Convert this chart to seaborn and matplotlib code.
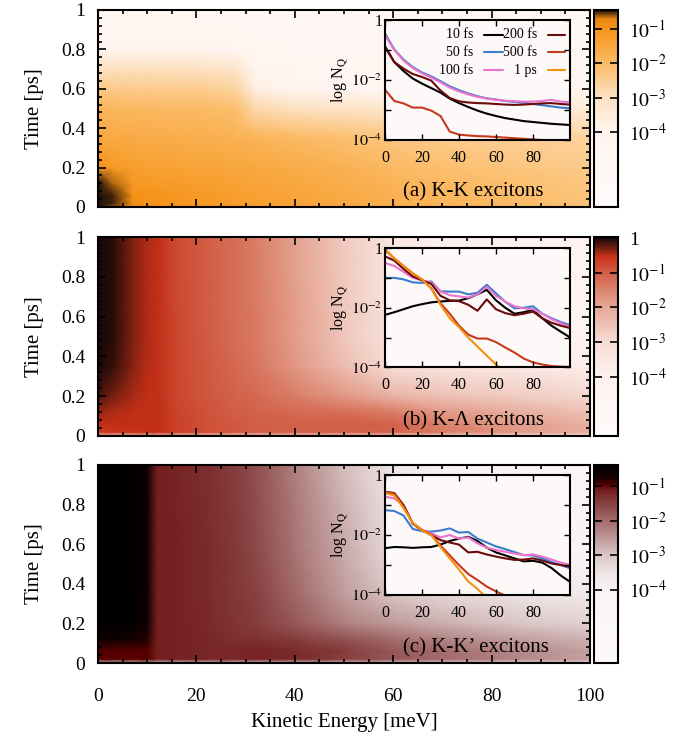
import numpy as np
import pandas as pd
import matplotlib
matplotlib.use("Agg")
import matplotlib.pyplot as plt
import seaborn as sns
from matplotlib.colors import LogNorm, LinearSegmentedColormap
from matplotlib.ticker import MultipleLocator, FixedLocator, FuncFormatter, NullLocator

# ---------------- inset data (log10 N_Q) ----------------
energy = [0, 5, 10, 15, 20, 25, 30, 35, 40, 45, 50, 55, 60, 65, 70, 75, 80, 85, 90, 95, 100]
time_labels = ["10 fs", "50 fs", "100 fs", "200 fs", "500 fs", "1 ps"]
line_colors = ["#000000", "#3c7ccc", "#ec74cc", "#6a0c0c", "#c8381c", "#f4900c"]

a_10fs = [-0.90, -1.40, -1.70, -1.95, -2.12, -2.27, -2.42, -2.62, -2.77, -2.90, -3.02, -3.12, -3.20, -3.27, -3.32, -3.37, -3.40, -3.43, -3.46, -3.48, -3.50]
a_50fs = [-0.45, -0.98, -1.32, -1.57, -1.75, -1.88, -2.04, -2.21, -2.34, -2.45, -2.54, -2.61, -2.65, -2.70, -2.73, -2.76, -2.80, -2.84, -2.88, -2.92, -2.94]
a_100fs = [-0.50, -1.00, -1.35, -1.60, -1.78, -1.92, -2.08, -2.25, -2.38, -2.48, -2.56, -2.62, -2.66, -2.69, -2.71, -2.72, -2.72, -2.70, -2.66, -2.72, -2.74]
a_200fs = [-0.87, -1.40, -1.62, -1.80, -1.90, -2.02, -2.35, -2.60, -2.71, -2.75, -2.77, -2.78, -2.80, -2.82, -2.83, -2.82, -2.80, -2.78, -2.77, -2.80, -2.82]
a_500fs = [-2.32, -2.70, -2.78, -2.92, -2.92, -3.02, -3.20, -3.72, -3.82, -3.85, -3.87, -3.88, -3.90, -3.92, -3.94, -3.96, -3.98, -4.00, -4.05, -4.10, -4.15]
a_1ps = [-4.4, -4.7, -4.9, -5.0, -5.1, -5.2, -5.4, -5.8, -6.0, -6.1, -6.2, -6.2, -6.3, -6.3, -6.4, -6.4, -6.5, -6.5, -6.5, -6.6, -6.6]

b_10fs = [-2.24, -2.15, -2.05, -1.95, -1.88, -1.82, -1.79, -1.77, -1.76, -1.68, -1.55, -1.40, -1.75, -2.00, -2.20, -2.15, -2.07, -2.35, -2.60, -2.80, -2.99]
b_50fs = [-1.00, -1.00, -1.05, -1.15, -1.17, -1.12, -1.45, -1.46, -1.46, -1.55, -1.50, -1.23, -1.52, -1.80, -2.02, -2.00, -1.95, -2.20, -2.35, -2.48, -2.58]
b_100fs = [-0.50, -0.60, -0.80, -1.00, -1.08, -1.15, -1.45, -1.58, -1.62, -1.66, -1.55, -1.30, -1.60, -1.80, -1.95, -2.02, -2.05, -2.20, -2.38, -2.52, -2.63]
b_200fs = [-0.28, -0.42, -0.70, -0.95, -1.08, -1.20, -1.60, -1.75, -1.78, -1.90, -2.10, -1.72, -2.05, -2.18, -2.25, -2.20, -2.13, -2.35, -2.50, -2.60, -2.68]
b_500fs = [-0.06, -0.35, -0.60, -0.85, -1.05, -1.35, -1.85, -2.20, -2.60, -2.90, -3.03, -3.03, -3.15, -3.33, -3.50, -3.70, -3.83, -3.90, -3.95, -3.97, -3.98]
b_1ps = [-0.03, -0.35, -0.60, -0.85, -1.05, -1.35, -1.90, -2.35, -2.65, -3.00, -3.30, -3.60, -3.90, -4.20, -4.50, -4.80, -5.00, -5.20, -5.40, -5.60, -5.80]

c_10fs = [-2.44, -2.40, -2.41, -2.43, -2.41, -2.40, -2.32, -2.20, -2.12, -2.06, -2.20, -2.42, -2.58, -2.68, -2.78, -2.88, -2.86, -2.92, -3.10, -3.35, -3.56]
c_50fs = [-1.17, -1.20, -1.35, -1.80, -1.87, -1.89, -1.85, -1.78, -1.92, -1.90, -2.12, -2.25, -2.38, -2.47, -2.57, -2.67, -2.68, -2.78, -2.90, -3.00, -3.11]
c_100fs = [-0.72, -0.78, -1.00, -1.62, -1.85, -1.94, -2.08, -2.00, -2.12, -2.08, -2.28, -2.42, -2.50, -2.56, -2.62, -2.67, -2.65, -2.72, -2.82, -2.92, -3.00]
c_200fs = [-0.56, -0.60, -1.00, -1.62, -1.85, -2.00, -2.17, -2.25, -2.32, -2.58, -2.56, -2.65, -2.72, -2.78, -2.83, -2.82, -2.78, -2.85, -2.95, -3.00, -3.06]
c_500fs = [-0.56, -0.62, -1.05, -1.60, -1.83, -1.98, -2.35, -2.68, -3.00, -3.30, -3.50, -3.72, -3.88, -4.02, -4.20, -4.40, -4.60, -4.80, -5.00, -5.20, -5.40]
c_1ps = [-0.60, -0.68, -1.10, -1.60, -1.85, -2.00, -2.40, -2.78, -3.15, -3.55, -3.80, -4.10, -4.40, -4.70, -5.00, -5.20, -5.40, -5.60, -5.80, -6.00, -6.20]

# ---------------- heatmap data (log10 N_Q) ----------------
heat_E = [0, 3, 7, 10, 12, 16, 22, 28, 32, 40, 50, 60, 70, 85, 100]
heat_t = [0, 0.02, 0.06, 0.12, 0.2, 0.35, 0.5, 0.6, 0.7, 0.8, 1.0]

heat_a = [
    [-0.45, -0.60, -0.90, -0.98, -1.02, -1.08, -1.15, -1.25, -1.30, -1.40, -1.55, -1.70, -1.85, -2.00, -2.20],
    [-0.40, -0.50, -0.90, -0.98, -1.02, -1.08, -1.15, -1.25, -1.30, -1.40, -1.55, -1.70, -1.85, -2.00, -2.20],
    [-0.40, -0.50, -0.95, -1.00, -1.05, -1.10, -1.18, -1.28, -1.33, -1.45, -1.60, -1.75, -1.90, -2.05, -2.25],
    [-0.45, -0.65, -1.10, -1.15, -1.18, -1.22, -1.30, -1.38, -1.42, -1.52, -1.65, -1.80, -1.95, -2.10, -2.30],
    [-0.95, -1.15, -1.30, -1.32, -1.35, -1.38, -1.42, -1.48, -1.52, -1.62, -1.75, -1.95, -2.10, -2.25, -2.40],
    [-1.50, -1.55, -1.58, -1.60, -1.62, -1.65, -1.70, -1.75, -1.82, -1.95, -2.10, -2.30, -2.40, -2.50, -2.60],
    [-1.85, -1.90, -1.92, -1.93, -1.95, -1.97, -2.00, -2.10, -2.75, -3.00, -3.10, -3.20, -3.30, -3.40, -3.50],
    [-2.35, -2.38, -2.40, -2.40, -2.40, -2.42, -2.45, -2.60, -3.70, -4.20, -4.30, -4.40, -4.50, -4.50, -4.50],
    [-3.00, -2.95, -2.95, -2.95, -2.95, -2.95, -3.00, -3.15, -4.10, -4.50, -4.50, -4.60, -4.60, -4.60, -4.60],
    [-4.00, -4.10, -4.15, -4.15, -4.15, -4.15, -4.20, -4.30, -4.60, -4.70, -4.70, -4.70, -4.70, -4.70, -4.70],
    [-4.80, -4.80, -4.80, -4.80, -4.80, -4.80, -4.80, -4.80, -4.80, -4.80, -4.80, -4.80, -4.80, -4.80, -4.80],
]
heat_b = [
    [-2.50, -2.50, -2.50, -2.50, -2.50, -2.60, -2.70, -2.80, -2.80, -2.80, -2.80, -2.80, -2.90, -3.00, -3.10],
    [-0.60, -0.58, -0.55, -0.52, -0.50, -0.70, -0.85, -0.95, -1.00, -1.05, -1.05, -1.10, -1.40, -1.80, -2.10],
    [-0.50, -0.50, -0.50, -0.50, -0.50, -0.70, -0.85, -0.95, -1.00, -1.05, -1.00, -1.05, -1.45, -1.85, -2.20],
    [-0.38, -0.45, -0.50, -0.50, -0.50, -0.72, -0.88, -1.00, -1.05, -1.15, -1.20, -1.40, -1.80, -2.10, -2.50],
    [-0.15, -0.28, -0.42, -0.48, -0.50, -0.75, -0.92, -1.08, -1.15, -1.40, -1.75, -2.20, -2.50, -2.70, -2.90],
    [0.00, -0.08, -0.32, -0.46, -0.50, -0.75, -0.95, -1.15, -1.30, -1.75, -2.40, -3.10, -3.40, -3.60, -3.80],
    [0.00, -0.05, -0.30, -0.45, -0.50, -0.76, -0.97, -1.20, -1.35, -1.85, -2.60, -3.40, -3.80, -4.00, -4.20],
    [0.00, -0.05, -0.30, -0.45, -0.50, -0.76, -0.98, -1.20, -1.35, -1.85, -2.60, -3.40, -3.85, -4.05, -4.25],
    [0.00, -0.05, -0.30, -0.45, -0.50, -0.77, -0.98, -1.21, -1.36, -1.87, -2.62, -3.45, -3.85, -4.05, -4.25],
    [0.00, -0.05, -0.30, -0.45, -0.50, -0.77, -0.99, -1.21, -1.37, -1.88, -2.63, -3.45, -3.90, -4.10, -4.30],
    [0.00, -0.05, -0.30, -0.45, -0.50, -0.78, -1.00, -1.22, -1.38, -1.90, -2.65, -3.50, -3.90, -4.10, -4.30],
]
heat_c = [
    [-2.80, -2.80, -2.80, -2.80, -2.80, -2.80, -2.80, -2.80, -2.80, -2.80, -2.80, -2.90, -3.00, -3.10, -3.20],
    [-0.95, -0.95, -0.95, -0.95, -1.10, -1.15, -1.20, -1.25, -1.20, -1.25, -1.50, -1.75, -2.00, -2.30, -2.60],
    [-0.95, -0.95, -0.95, -0.95, -1.10, -1.15, -1.20, -1.20, -1.15, -1.25, -1.45, -1.75, -2.00, -2.30, -2.60],
    [-0.60, -0.60, -0.65, -0.80, -1.10, -1.15, -1.20, -1.30, -1.30, -1.45, -1.70, -2.00, -2.25, -2.55, -2.80],
    [-0.42, -0.42, -0.45, -0.62, -1.10, -1.15, -1.22, -1.35, -1.45, -1.75, -2.20, -2.50, -2.75, -3.00, -3.20],
    [-0.40, -0.40, -0.42, -0.60, -1.10, -1.15, -1.25, -1.40, -1.50, -1.95, -2.55, -3.00, -3.30, -3.50, -3.70],
    [-0.40, -0.40, -0.42, -0.60, -1.10, -1.15, -1.25, -1.40, -1.55, -2.05, -2.65, -3.30, -3.70, -3.90, -4.10],
    [-0.40, -0.40, -0.42, -0.60, -1.10, -1.15, -1.25, -1.42, -1.57, -2.10, -2.70, -3.40, -3.80, -4.00, -4.20],
    [-0.40, -0.40, -0.42, -0.60, -1.10, -1.16, -1.26, -1.43, -1.60, -2.12, -2.75, -3.45, -3.85, -4.05, -4.25],
    [-0.40, -0.40, -0.42, -0.60, -1.10, -1.17, -1.27, -1.45, -1.62, -2.15, -2.80, -3.50, -3.90, -4.10, -4.30],
    [-0.40, -0.40, -0.42, -0.60, -1.10, -1.18, -1.28, -1.47, -1.65, -2.20, -2.90, -3.60, -4.00, -4.20, -4.40],
]

panel_labels = ["(a) K-K excitons", "(b) K-\u039b excitons", "(c) K-K\u2019 excitons"]

# colour scales: (log10 value, colour) anchors and colorbar ranges
cmap_anchors = [
    [(-6.18, "#fffafa"), (-4.0, "#fff5ef"), (-3.0, "#fde2c4"), (-2.0, "#fbbb66"),
     (-1.0, "#f6941a"), (-0.7, "#e88510"), (-0.45, "#1c1008")],
    [(-5.72, "#fffafa"), (-4.0, "#fdf2ef"), (-3.0, "#f6dcd4"), (-2.0, "#e6a898"),
     (-1.5, "#dc8670"), (-1.0, "#d25e46"), (-0.5, "#c83018"), (-0.25, "#6a1e10"), (0.04, "#120606")],
    [(-6.14, "#fffafa"), (-4.0, "#f9f3f3"), (-3.5, "#eee4e4"), (-3.0, "#dac6c6"), (-2.5, "#bf9999"),
     (-2.0, "#a46c6c"), (-1.5, "#884242"), (-1.1, "#741e1e"), (-0.95, "#5a0000"), (-0.75, "#1a0000"),
     (-0.375, "#000000")],
]
cbar_ticks = [[-1, -2, -3, -4], [0, -1, -2, -3, -4], [-1, -2, -3, -4]]

# ---------------- style ----------------
sns.set_theme(style="ticks")
plt.rcParams["font.family"] = ["Liberation Serif", "DejaVu Serif"]
plt.rcParams["mathtext.fontset"] = "stix"
plt.rcParams["axes.linewidth"] = 1.5
plt.rcParams["axes.axisbelow"] = False
for key in ["text.color", "axes.labelcolor", "xtick.color", "ytick.color", "axes.edgecolor"]:
    plt.rcParams[key] = "black"

fig = plt.figure(figsize=(6.73, 7.42), dpi=100)
W, H = 673.0, 742.0

main_px = [(10, 207), (237, 436), (465, 663)]
inset_px = [(20, 140), (248, 367.5), (475, 595)]

line_sets = [
    [a_10fs, a_50fs, a_100fs, a_200fs, a_500fs, a_1ps],
    [b_10fs, b_50fs, b_100fs, b_200fs, b_500fs, b_1ps],
    [c_10fs, c_50fs, c_100fs, c_200fs, c_500fs, c_1ps],
]
heats = [heat_a, heat_b, heat_c]


def dec_fmt(v, p):
    e = int(round(np.log10(v)))
    return "1" if e == 0 else r"$10^{%d}$" % e


def inset_fmt(v, p):
    e = int(round(np.log10(v)))
    if e == 0:
        return "1"
    if e % 2 == 0:
        return r"$10^{%d}$" % e
    return ""


for i in range(3):
    top, bot = main_px[i]
    ax = fig.add_axes([98 / W, 1 - bot / H, 492 / W, (bot - top) / H])
    ax.set_axisbelow(False)
    anchors = cmap_anchors[i]
    vmin, vmax = anchors[0][0], anchors[-1][0]
    cmap = LinearSegmentedColormap.from_list(
        "c%d" % i, [((v - vmin) / (vmax - vmin), c) for v, c in anchors])
    norm = LogNorm(vmin=10 ** vmin, vmax=10 ** vmax)
    Z = 10 ** np.array(heats[i])
    mesh = ax.pcolormesh(heat_E, heat_t, Z, shading="gouraud", cmap=cmap, norm=norm)
    ax.set_xlim(0, 100)
    ax.set_ylim(0, 1)
    ax.xaxis.set_major_locator(MultipleLocator(20))
    ax.xaxis.set_minor_locator(MultipleLocator(5))
    ax.yaxis.set_major_locator(MultipleLocator(0.2))
    ax.yaxis.set_minor_locator(MultipleLocator(0.04))
    ax.yaxis.set_major_formatter(FuncFormatter(lambda v, p: "%g" % round(v, 2)))
    ax.tick_params(which="both", direction="in", top=True, right=True, width=1.2,
                   color="black")
    ax.tick_params(which="major", length=6)
    ax.tick_params(which="minor", length=3)
    ax.tick_params(axis="y", labelsize=14, pad=9)
    ax.tick_params(axis="x", labelsize=14, pad=18, labelbottom=(i == 2))
    ax.set_ylabel("Time [ps]", fontsize=15, labelpad=12)
    if i == 2:
        ax.set_xlabel("Kinetic Energy [meV]", fontsize=15, labelpad=6)
    ax.text((403 - 98) / 492, 0.055, panel_labels[i], transform=ax.transAxes,
            ha="left", va="baseline", fontsize=15, color="black")
    for s in ax.spines.values():
        s.set_linewidth(1.5)
        s.set_zorder(5)

    # colorbar
    cax = fig.add_axes([594 / W, 1 - bot / H, 24 / W, (bot - top) / H])
    cb = fig.colorbar(mesh, cax=cax)
    cax.set_axisbelow(False)
    cb.ax.yaxis.set_major_locator(FixedLocator([10.0 ** e for e in cbar_ticks[i]]))
    cb.ax.yaxis.set_minor_locator(NullLocator())
    cb.ax.yaxis.set_major_formatter(FuncFormatter(dec_fmt))
    cb.ax.tick_params(which="major", direction="in", left=True, right=True,
                      length=6, width=1.2, labelsize=14, pad=8, color="black")
    cb.outline.set_linewidth(1.5)
    cb.outline.set_edgecolor("black")

    # inset
    itop, ibot = inset_px[i]
    ax_in = fig.add_axes([385 / W, 1 - ibot / H, 185 / W, (ibot - itop) / H])
    ax_in.set_axisbelow(False)
    ax_in.set_facecolor("#fdf9f8")
    rows = []
    for lab, vals in zip(time_labels, line_sets[i]):
        for e, v in zip(energy, vals):
            rows.append({"E": e, "N": 10 ** v, "time": lab})
    df = pd.DataFrame(rows)
    sns.lineplot(data=df, x="E", y="N", hue="time", hue_order=time_labels,
                 palette=dict(zip(time_labels, line_colors)), estimator=None,
                 linewidth=1.5, legend=False, ax=ax_in)
    ax_in.set_yscale("log")
    ax_in.set_xlim(0, 100)
    ax_in.set_ylim(1e-4, 1)
    ax_in.xaxis.set_major_locator(FixedLocator([0, 20, 40, 60, 80]))
    ax_in.xaxis.set_minor_locator(NullLocator())
    ax_in.yaxis.set_major_locator(FixedLocator([1e-4, 1e-3, 1e-2, 1e-1, 1]))
    ax_in.yaxis.set_minor_locator(NullLocator())
    ax_in.yaxis.set_major_formatter(FuncFormatter(inset_fmt))
    ax_in.tick_params(which="both", direction="in", top=True, right=True,
                      length=4, width=1.0, labelsize=11.5, color="black")
    ax_in.tick_params(axis="x", pad=7)
    ax_in.tick_params(axis="y", pad=2)
    ax_in.set_xlabel("")
    ax_in.set_ylabel(r"log N$_{\mathrm{Q}}$", fontsize=11.5, labelpad=0)
    for s in ax_in.spines.values():
        s.set_linewidth(1.5)
        s.set_zorder(5)

    if i == 0:
        col_text_x = [0.476, 0.822]
        col_line_x = [(0.535, 0.638), (0.881, 0.973)]
        row_y = [0.875, 0.733, 0.583]
        for k, (lab, col) in enumerate(zip(time_labels, line_colors)):
            c, r = divmod(k, 3)
            ax_in.text(col_text_x[c], row_y[r], lab, transform=ax_in.transAxes,
                       ha="right", va="center", fontsize=10, color="black")
            ax_in.plot(col_line_x[c], [row_y[r], row_y[r]], color=col, lw=1.5,
                       transform=ax_in.transAxes)

fig.savefig("out.png", dpi=100)
